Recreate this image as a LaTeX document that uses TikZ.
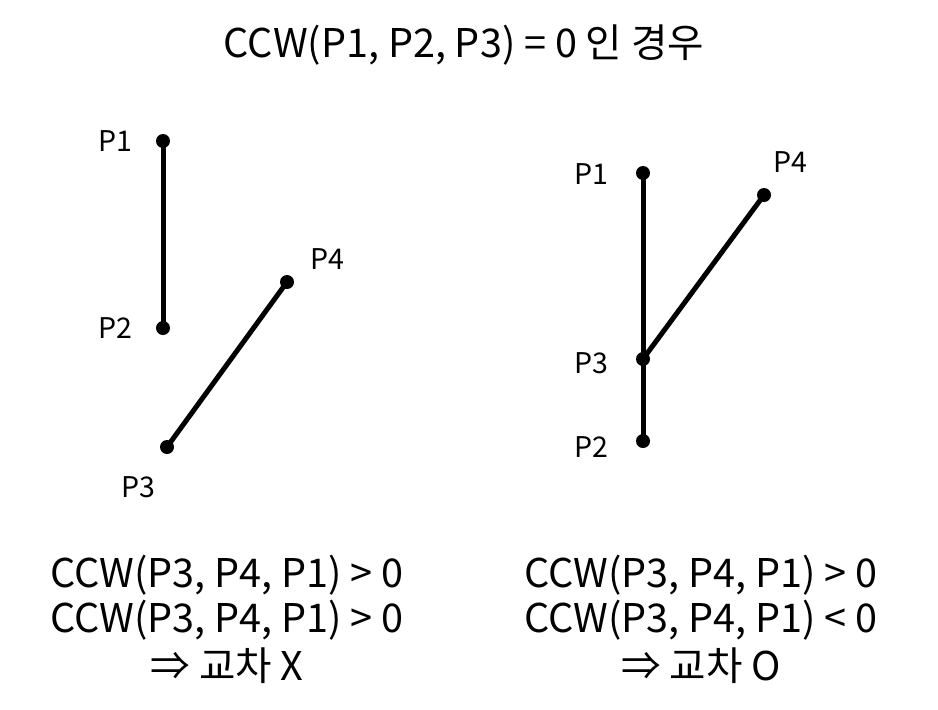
\documentclass[tikz,border=0pt]{standalone}
\usepackage{fontspec}
\setmainfont{Noto Sans CJK KR}
\begin{document}
\begin{tikzpicture}[x=1pt,y=-1pt,
  seg/.style={line width=5pt},
  pt/.style={circle,fill=black,inner sep=0pt,minimum size=14pt},
  lbl/.style={anchor=base,font=\fontsize{28.5}{32}\selectfont,inner sep=0pt},
  big/.style={anchor=base,font=\fontsize{39.6}{46}\selectfont,inner sep=0pt}]
\useasboundingbox (0,0) rectangle (938,710);
\node[big] (title) at (464,57) {CCW(P1, P2, P3) = 0 인 경우};
% left
\coordinate (a1) at (163,141);
\coordinate (a2) at (163,328);
\coordinate (a3) at (167,447);
\coordinate (a4) at (287,282);
\draw[seg] (a1) -- (a2);
\draw[seg] (a3) -- (a4);
\foreach \p in {a1,a2,a3,a4} \node[pt] at (\p) {};
\node[lbl] (la1) at (115,151) {P1};
\node[lbl] (la2) at (115,338) {P2};
\node[lbl] (la3) at (138,497) {P3};
\node[lbl] (la4) at (327,269) {P4};
% right
\coordinate (b1) at (643,173);
\coordinate (b2) at (643,441);
\coordinate (b3) at (643,359);
\coordinate (b4) at (764,195);
\draw[seg] (b1) -- (b2);
\draw[seg] (b3) -- (b4);
\foreach \p in {b1,b2,b3,b4} \node[pt] at (\p) {};
\node[lbl] (lb1) at (591,184) {P1};
\node[lbl] (lb2) at (591,457) {P2};
\node[lbl] (lb3) at (591,373) {P3};
\node[lbl] (lb4) at (790,172) {P4};
% bottom texts
\node[big] (l1) at (227,587) {CCW(P3, P4, P1) > 0};
\node[big] (l2) at (227,632) {CCW(P3, P4, P1) > 0};
\node[big] (l3) at (227,680) {⇒ 교차 X};
\node[big] (r1) at (701,587) {CCW(P3, P4, P1) > 0};
\node[big] (r2) at (701,632) {CCW(P3, P4, P1) < 0};
\node[big] (r3) at (701,680) {⇒ 교차 O};
\end{tikzpicture}
\end{document}
